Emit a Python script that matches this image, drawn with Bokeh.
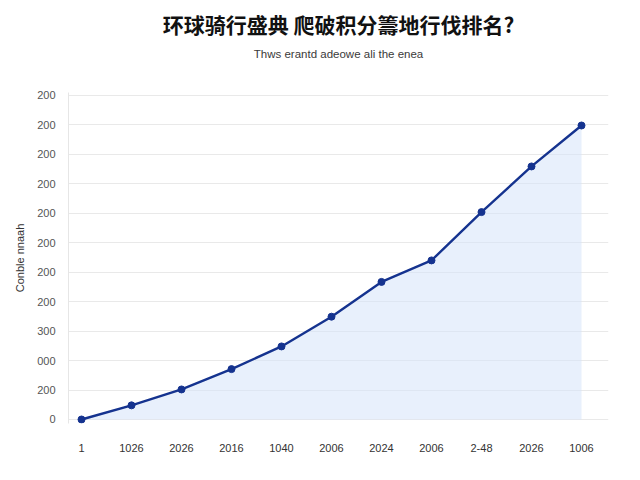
from bokeh.plotting import figure
from bokeh.models import FixedTicker, Title, ColumnDataSource
from bokeh.embed import file_html
from bokeh.resources import INLINE

# data
positions = [0, 1, 2, 3, 4, 5, 6, 7, 8, 9, 10]
x_labels = ["1", "1026", "2026", "2016", "1040", "2006", "2024", "2006", "2-48", "2026", "1006"]
values = [0, 48, 102, 171, 248, 349, 467, 540, 704, 859, 998]
y_ticks = [0, 100, 200, 300, 400, 500, 600, 700, 800, 900, 1000, 1100]
y_labels = ["0", "200", "000", "300", "200", "200", "200", "200", "200", "200", "200", "200"]

title_text = "环球骑行盛典 爬破积分籌地行伐排名?"
subtitle_text = "Thws erantd adeowe ali the enea"
y_axis_text = "Conble nnaah"

LINE = "#15338f"
FILL = "#d6e4fa"
FONT = "Liberation Sans"

src = ColumnDataSource(dict(x=positions, y=values, base=[0] * len(values)))

p = figure(width=624, height=464, output_backend="svg", toolbar_location=None,
           x_range=(-0.26, 10.54), y_range=(-13.6, 1110))
p.min_border_left = 68
p.min_border_right = 16
p.min_border_bottom = 41
p.min_border_top = 10

p.title.text = title_text
p.title.text_font = "Noto Sans CJK SC"
p.title.text_font_size = "21px"
p.title.text_font_style = "bold"
p.title.text_color = "#111111"
p.title.align = "center"
p.title.standoff = 13

# spacer between subtitle and the frame
gap = Title(text=" ", align="center", text_font=FONT, text_font_size="10px", standoff=20)
p.add_layout(gap, "above")

sub = Title(text=subtitle_text, align="center", text_font=FONT, text_font_size="11.5px",
            text_font_style="normal", text_color="#3a3a3a", standoff=0)
p.add_layout(sub, "above")

p.varea(x="x", y1="base", y2="y", source=src, fill_color=FILL, fill_alpha=0.55)
p.line(x="x", y="y", source=src, line_color=LINE, line_width=2.4)
p.scatter(x="x", y="y", source=src, size=7, fill_color=LINE, line_color=LINE)

p.xgrid.grid_line_color = None
p.ygrid.grid_line_color = "#e9e9e9"
p.ygrid.grid_line_width = 1
p.ygrid.ticker = FixedTicker(ticks=y_ticks)

p.xaxis.ticker = FixedTicker(ticks=positions)
p.xaxis.major_label_overrides = {i: lab for i, lab in zip(positions, x_labels)}
p.xaxis.axis_line_color = None
p.xaxis.major_tick_line_color = None
p.xaxis.minor_tick_line_color = None
p.xaxis.major_label_standoff = 14
p.xaxis.major_label_text_font = FONT
p.xaxis.major_label_text_font_size = "11px"
p.xaxis.major_label_text_color = "#333333"

p.yaxis.ticker = FixedTicker(ticks=y_ticks)
p.yaxis.major_label_overrides = {t: lab for t, lab in zip(y_ticks, y_labels)}
p.yaxis.axis_line_color = "#e6e6e6"
p.yaxis.major_tick_line_color = None
p.yaxis.minor_tick_line_color = None
p.yaxis.major_label_standoff = 7
p.yaxis.major_label_text_font = FONT
p.yaxis.major_label_text_font_size = "11px"
p.yaxis.major_label_text_color = "#555555"
p.yaxis.axis_label = y_axis_text
p.yaxis.axis_label_text_font = FONT
p.yaxis.axis_label_text_font_size = "11px"
p.yaxis.axis_label_text_font_style = "normal"
p.yaxis.axis_label_text_color = "#333333"
p.yaxis.axis_label_standoff = 8

p.outline_line_color = None

open("out.html", "w").write(file_html(p, INLINE))
